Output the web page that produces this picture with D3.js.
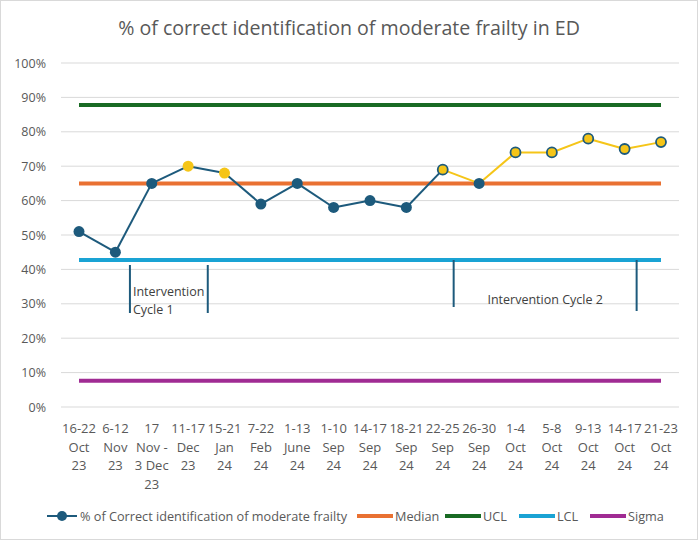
<!DOCTYPE html>
<html><head><meta charset="utf-8">
<script src="https://cdn.jsdelivr.net/npm/d3@7"></script>
<style>body{margin:0;background:#fff;font-family:"Open Sans","Noto Sans",sans-serif;}</style>
</head><body>
<svg id="c" width="698" height="540"></svg>
<script>
const categories = [
  ["16-22","Oct","23"],["6-12","Nov","23"],["17","Nov -","3 Dec","23"],["11-17","Dec","23"],
  ["15-21","Jan","24"],["7-22","Feb","24"],["1-13","June","24"],["1-10","Sep","24"],
  ["14-17","Sep","24"],["18-21","Sep","24"],["22-25","Sep","24"],["26-30","Sep","24"],
  ["1-4","Oct","24"],["5-8","Oct","24"],["9-13","Oct","24"],["14-17","Oct","24"],["21-23","Oct","24"]
];
const values = [51,45,65,70,68,59,65,58,60,58,69,65,74,74,78,75,77];
// point styles: 0 = dark, 1 = yellow no outline, 2 = yellow with dark outline
const pointStyle = [0,0,0,1,1,0,0,0,0,0,2,0,2,2,2,2,2];
// segment colours (segment i joins point i and i+1): 0 dark, 1 yellow
const segStyle = [0,0,0,0,0,0,0,0,0,0,1,1,1,1,1,1];
const median = 65, ucl = 87.8, lcl = 42.7, sigma = 7.6;
const yTicks = [0,10,20,30,40,50,60,70,80,90,100];
const interventions = [
  {start:1.4, end:3.54, label:["Intervention","Cycle 1"]},
  {start:10.3, end:15.33, label:["Intervention Cycle 2"]}
];
const legendItems = ["% of Correct identification of moderate frailty","Median","UCL","LCL","Sigma"];

const dark = "#1d5a7c", yellow = "#f5c518", orange = "#e97132", green = "#196b24", blue = "#1aa3d4", purple = "#a02b93";
const svg = d3.select("#c");
svg.append("rect").attr("x",0.5).attr("y",0.5).attr("width",697).attr("height",539).attr("fill","#fff").attr("stroke","#d9d9d9");

const x = d3.scalePoint().domain(d3.range(categories.length)).range([79,661]);
const xi = d3.scaleLinear().domain([0,categories.length-1]).range([79,661]);
const y = d3.scaleLinear().domain([0,100]).range([407,63]);
const left = 61, right = 679;

svg.append("text").attr("x",349).attr("y",35).attr("text-anchor","middle").attr("fill","#595959")
  .attr("font-size",19.6).text("% of correct identification of moderate frailty in ED");

// gridlines
svg.append("g").selectAll("line").data(yTicks).join("line")
  .attr("x1",left).attr("x2",right).attr("y1",d=>y(d)).attr("y2",d=>y(d)).attr("stroke","#d9d9d9").attr("stroke-width",1);
svg.append("g").selectAll("text").data(yTicks).join("text")
  .attr("x",46).attr("y",d=>y(d)+4.5).attr("text-anchor","end").attr("fill","#595959").attr("font-size",12.5)
  .text(d=>d+"%");

// x labels
const xl = svg.append("g").selectAll("text").data(categories).join("text")
  .attr("text-anchor","middle").attr("fill","#595959").attr("font-size",13)
  .attr("transform",(d,i)=>`translate(${x(i)},0)`);
xl.selectAll("tspan").data(d=>d).join("tspan").attr("x",0).attr("y",(d,j)=>433+j*18.5).text(d=>d);

// control lines
[[sigma,purple],[lcl,blue],[median,orange],[ucl,green]].forEach(([v,c])=>{
  svg.append("line").attr("x1",x(0)).attr("x2",x(categories.length-1)).attr("y1",y(v)).attr("y2",y(v))
    .attr("stroke",c).attr("stroke-width",4);
});

// interventions
const iv = svg.append("g");
iv.append("line").attr("x1",xi(interventions[0].start)).attr("x2",xi(interventions[0].start)).attr("y1",265).attr("y2",313).attr("stroke",dark).attr("stroke-width",2);
iv.append("line").attr("x1",xi(interventions[0].end)).attr("x2",xi(interventions[0].end)).attr("y1",265).attr("y2",313).attr("stroke",dark).attr("stroke-width",2);
iv.append("text").attr("x",xi(interventions[0].start)+3).attr("y",296).attr("fill","#404040").attr("font-size",12.5).text(interventions[0].label[0]);
iv.append("text").attr("x",xi(interventions[0].start)+3).attr("y",314).attr("fill","#404040").attr("font-size",12.5).text(interventions[0].label[1]);
iv.append("line").attr("x1",xi(interventions[1].start)).attr("x2",xi(interventions[1].start)).attr("y1",260).attr("y2",307).attr("stroke",dark).attr("stroke-width",2);
iv.append("line").attr("x1",xi(interventions[1].end)).attr("x2",xi(interventions[1].end)).attr("y1",260).attr("y2",311).attr("stroke",dark).attr("stroke-width",2);
iv.append("text").attr("x",(xi(interventions[1].start)+xi(interventions[1].end))/2).attr("y",304).attr("text-anchor","middle").attr("fill","#404040").attr("font-size",12.5).text(interventions[1].label[0]);

// data segments
svg.append("g").selectAll("line").data(segStyle).join("line")
  .attr("x1",(d,i)=>x(i)).attr("x2",(d,i)=>x(i+1)).attr("y1",(d,i)=>y(values[i])).attr("y2",(d,i)=>y(values[i+1]))
  .attr("stroke",d=>d?yellow:dark).attr("stroke-width",2);
svg.append("g").selectAll("circle").data(values).join("circle")
  .attr("cx",(d,i)=>x(i)).attr("cy",d=>y(d)).attr("r",(d,i)=>pointStyle[i]===2?5:5.5)
  .attr("fill",(d,i)=>pointStyle[i]?yellow:dark)
  .attr("stroke",(d,i)=>pointStyle[i]===1?"none":dark).attr("stroke-width",(d,i)=>pointStyle[i]===2?1.8:0);

// legend
const lg = svg.append("g").attr("font-size",12.7).attr("fill","#595959");
const lcol = [dark,orange,green,blue,purple];
const lpos = [47,357,445,519,590];
legendItems.forEach((t,i)=>{
  const lx = lpos[i];
  lg.append("line").attr("x1",lx).attr("x2",lx+30+(i?6:0)).attr("y1",516).attr("y2",516).attr("stroke",lcol[i]).attr("stroke-width",i?4:2);
  if(i===0) lg.append("circle").attr("cx",lx+15).attr("cy",516).attr("r",5).attr("fill",dark);
  lg.append("text").attr("x",lx+(i?38:33)).attr("y",520.5).text(t);
});
</script>
</body></html>
